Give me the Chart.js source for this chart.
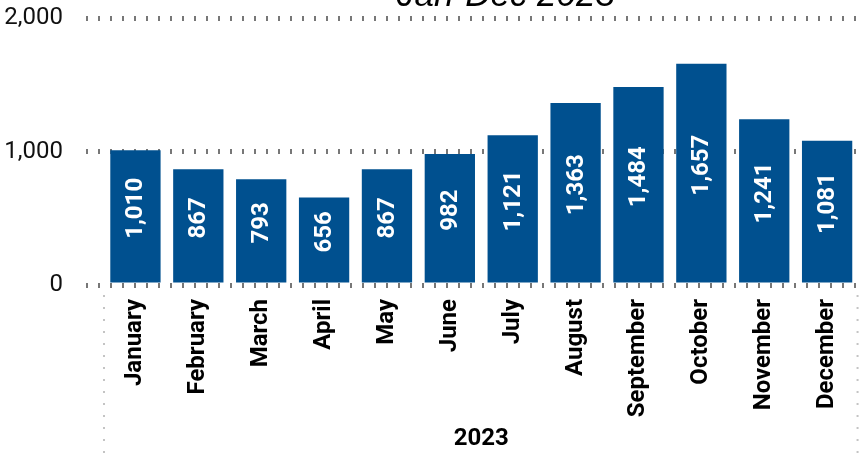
<!DOCTYPE html>
<html>
<head>
<meta charset="utf-8">
<script src="https://cdn.jsdelivr.net/npm/chart.js@4"></script>
<style>
  html, body { margin: 0; padding: 0; background: #fff; }
  #wrap { width: 862px; height: 454px; }
</style>
</head>
<body>
<div id="wrap"><canvas id="c" width="862" height="454"></canvas></div>
<script>
const categories = ["January","February","March","April","May","June","July","August","September","October","November","December"];
const values = [1010, 867, 793, 656, 867, 982, 1121, 1363, 1484, 1657, 1241, 1081];
const groupLabel = "2023";
const titleText = "Jan-Dec 2023";
const yTicks = [0, 1000, 2000];

const BAR_COLOR = '#00508f';
const fmt = v => v.toLocaleString('en-US');

const barLabels = {
  id: 'barLabels',
  afterDatasetsDraw(chart) {
    const ctx = chart.ctx;
    const meta = chart.getDatasetMeta(0);
    ctx.save();
    ctx.fillStyle = '#ffffff';
    ctx.font = 'bold 24px Roboto';
    ctx.textAlign = 'center';
    ctx.textBaseline = 'middle';
    meta.data.forEach((bar, i) => {
      const cy = (bar.y + bar.base) / 2 - 8;
      ctx.save();
      ctx.translate(bar.x, cy);
      ctx.rotate(-Math.PI / 2);
      ctx.fillText(fmt(values[i]), 0, 1);
      ctx.restore();
    });
    ctx.restore();
  }
};

const extras = {
  id: 'extras',
  afterDraw(chart) {
    const ctx = chart.ctx;
    const a = chart.chartArea;
    ctx.save();
    ctx.strokeStyle = '#c4c4c4';
    ctx.lineWidth = 2;
    ctx.setLineDash([2, 10]);
    [a.left, a.right - 1].forEach(x => {
      ctx.beginPath();
      ctx.moveTo(x, a.bottom + 10);
      ctx.lineTo(x, chart.height);
      ctx.stroke();
    });
    ctx.setLineDash([]);
    ctx.fillStyle = '#000';
    ctx.font = 'italic 35px "Liberation Sans"';
    ctx.textAlign = 'center';
    ctx.textBaseline = 'alphabetic';
    ctx.fillText(titleText, 506, 6);
    ctx.restore();
  }
};

new Chart(document.getElementById('c'), {
  type: 'bar',
  data: {
    labels: categories,
    datasets: [{
      data: values,
      backgroundColor: BAR_COLOR,
      borderWidth: 0,
      categoryPercentage: 0.8,
      barPercentage: 1.0
    }]
  },
  options: {
    responsive: false,
    animation: false,
    devicePixelRatio: 1,
    layout: { padding: { top: 18, left: 0, right: 2, bottom: 0 } },
    plugins: {
      legend: { display: false },
      tooltip: { enabled: false },
      title: { display: false }
    },
    scales: {
      y: {
        min: 0,
        max: 2000,
        afterBuildTicks(scale) { scale.ticks = yTicks.map(v => ({ value: v })); },
        afterFit(scale) { scale.width = 104; },
        border: { display: false, dash: [2, 10], dashOffset: 6 },
        grid: {
          color: '#777777',
          lineWidth: 5,
          drawTicks: true,
          tickLength: 41,
          tickColor: '#777777',
          tickWidth: 5,
          tickBorderDash: [0, 23, 2, 10, 2, 100],
          tickBorderDashOffset: 0
        },
        ticks: {
          padding: 0,
          color: '#111',
          font: { family: 'Roboto', size: 24 },
          callback: v => fmt(v)
        }
      },
      x: {
        afterFit(scale) { scale.height = 169; },
        border: { display: false },
        grid: { display: false },
        ticks: {
          minRotation: 90,
          maxRotation: 90,
          autoSkip: false,
          padding: 6,
          color: '#000',
          font: { family: 'Roboto', size: 24, weight: 'bold' }
        },
        title: {
          display: true,
          text: groupLabel,
          color: '#000',
          font: { family: 'Roboto', size: 24, weight: 'bold' },
          padding: { top: 0, bottom: 1 }
        }
      }
    }
  },
  plugins: [barLabels, extras]
});
</script>
</body>
</html>
